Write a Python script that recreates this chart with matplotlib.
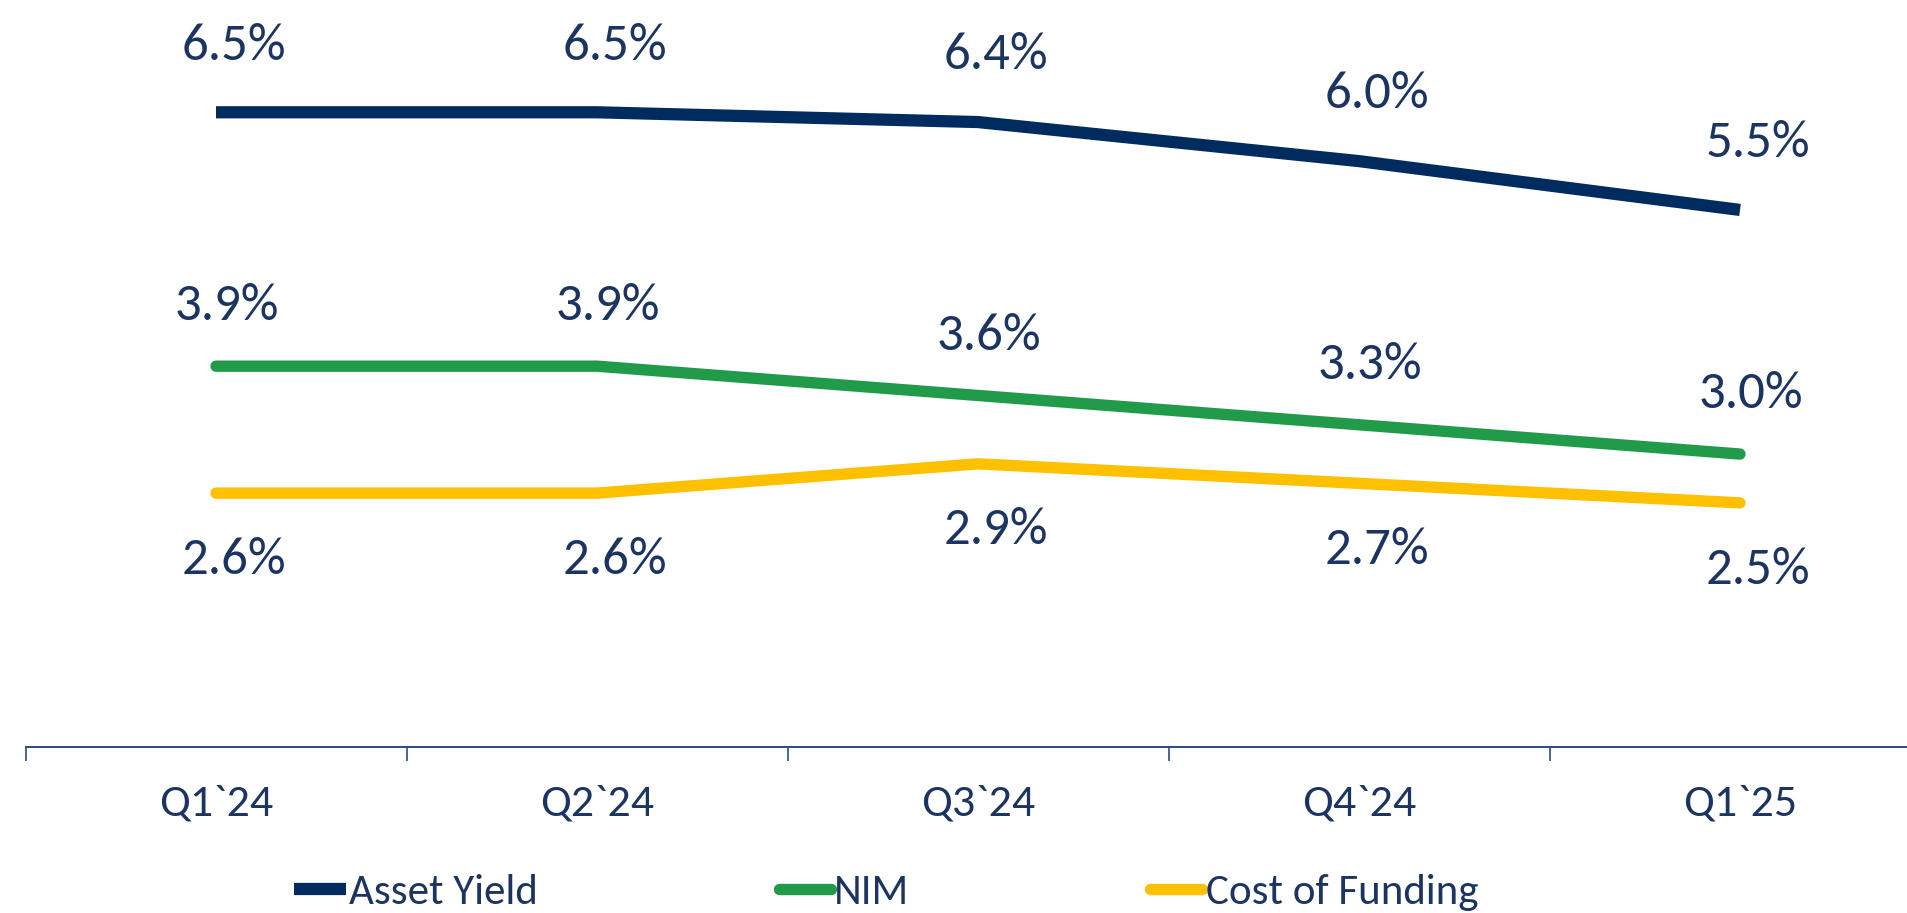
import matplotlib
matplotlib.use("Agg")
import matplotlib.pyplot as plt
from matplotlib import font_manager

quarters = ["Q1`24", "Q2`24", "Q3`24", "Q4`24", "Q1`25"]
asset_yield = [6.5, 6.5, 6.4, 6.0, 5.5]
nim = [3.9, 3.9, 3.6, 3.3, 3.0]
cost_of_funding = [2.6, 2.6, 2.9, 2.7, 2.5]

NAVY = "#002B5E"
TEXT = "#1C3461"
GREEN = "#219A4A"
YELLOW = "#FFC000"

# pick a narrow humanist-ish font, closest to Calibri that is around
installed = {f.name for f in font_manager.fontManager.ttflist}
font = "Lato"
for cand in ["Carlito", "Liberation Sans Narrow", "DejaVu Sans Condensed", "Lato"]:
    if cand in installed:
        font = cand
        break
plt.rcParams["font.family"] = [font, "DejaVu Sans"]

fig = plt.figure(figsize=(19.07, 9.13), dpi=100)
ax = fig.add_axes([25.5 / 1907, 1 - 747 / 913, 1905 / 1907, 747 / 913])
x = list(range(len(quarters)))

ax.plot(x, asset_yield, color=NAVY, lw=8.8, solid_capstyle="butt", label="Asset Yield")
ax.plot(x, nim, color=GREEN, lw=8.2, solid_capstyle="round", label="NIM")
ax.plot(x, cost_of_funding, color=YELLOW, lw=8.2, solid_capstyle="round", label="Cost of Funding")

lab_fs = 38
for xi, v in zip(x, asset_yield):
    ax.annotate(f"{v:.1f}%", (xi, v), xytext=(13, 48), textcoords="offset points",
                ha="center", va="center", fontsize=lab_fs, color=TEXT)
for xi, v in zip(x, nim):
    ax.annotate(f"{v:.1f}%", (xi, v), xytext=(8, 43), textcoords="offset points",
                ha="center", va="center", fontsize=lab_fs, color=TEXT)
for xi, v in zip(x, cost_of_funding):
    ax.annotate(f"{v:.1f}%", (xi, v), xytext=(13, -48), textcoords="offset points",
                ha="center", va="center", fontsize=lab_fs, color=TEXT)

ax.set_xlim(-0.5, len(quarters) - 0.5)
ax.set_ylim(0, 7.65)
ax.set_xticks(x)
ax.set_xticklabels(quarters, fontsize=33, color=TEXT)
ax.set_xticks([i - 0.5 for i in range(len(quarters) + 1)], minor=True)
ax.tick_params(axis="x", which="major", length=0, pad=27)
ax.tick_params(axis="x", which="minor", length=10, width=1.2, color="#2E4A7D", direction="out")
ax.set_yticks([])
for side in ["top", "left", "right"]:
    ax.spines[side].set_visible(False)
ax.spines["bottom"].set_color("#2E4A7D")
ax.spines["bottom"].set_linewidth(1.4)

leg = fig.legend(loc="center", bbox_to_anchor=(0.4646, 0.022), ncol=3, frameon=False,
                 fontsize=31, handlelength=1.2, handletextpad=0.08, columnspacing=5.6)
for t in leg.get_texts():
    t.set_color(TEXT)

fig.savefig("out.png", dpi=100)
